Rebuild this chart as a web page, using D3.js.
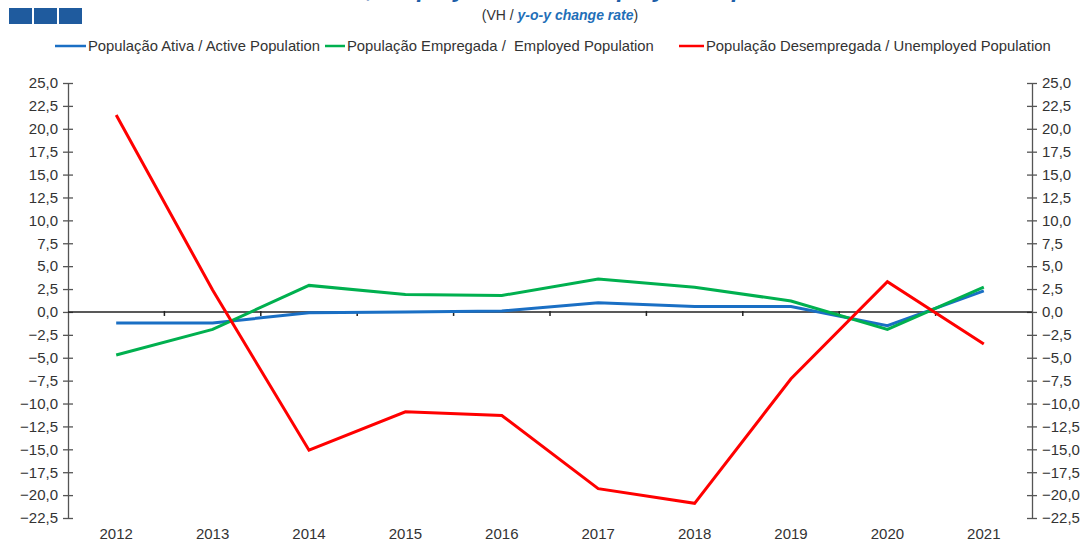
<!DOCTYPE html>
<html><head><meta charset="utf-8">
<script src="https://cdn.jsdelivr.net/npm/d3@7"></script>
<style>body{margin:0;background:#fff}svg{display:block;font-family:"Liberation Sans",Arial,sans-serif}</style>
</head><body><svg id="c" width="1082" height="541"></svg>
<script>
const years = ["2012","2013","2014","2015","2016","2017","2018","2019","2020","2021"];
const active = [-1.2,-1.2,-0.1,0.0,0.1,1.0,0.6,0.6,-1.5,2.3];
const employed = [-4.7,-1.9,2.9,1.9,1.8,3.6,2.7,1.2,-1.9,2.7];
const unemployed = [21.5,2.4,-15.1,-10.9,-11.3,-19.3,-20.9,-7.3,3.3,-3.5];
const yTicks = [25,22.5,20,17.5,15,12.5,10,7.5,5,2.5,0,-2.5,-5,-7.5,-10,-12.5,-15,-17.5,-20,-22.5];
const seriesNames = ["População Ativa / Active Population","População Empregada /  Employed Population","População Desempregada / Unemployed Population"];
const colors = ["#1a6fc4","#00b04f","#ff0000"];

const svg = d3.select("#c");
const L = 68, R = 1032, T = 83, B = 518;
const x = d3.scaleBand().domain(years).range([L,R]);
const y = d3.scaleLinear().domain([-22.5,25]).range([B,T]);
const fmt = v => d3.format(".1f")(v).replace(".",",");

// header squares
[9,34,59].forEach(px=>svg.append("rect").attr("x",px).attr("y",8).attr("width",23).attr("height",16).attr("fill","#1f5b9e"));
// title (cut off at top, as in the reference)
svg.append("text").attr("x",560).attr("y",-3).attr("text-anchor","middle")
  .attr("font-size",24).attr("font-weight","bold").attr("font-style","italic").attr("fill","#1f5fa8")
  .text("Active, Employed and Unemployed Population");
const sub = svg.append("text").attr("x",560).attr("y",20).attr("text-anchor","middle").attr("font-size",14).attr("fill","#333");
sub.append("tspan").text("(VH / ");
sub.append("tspan").attr("fill","#1f6fb8").attr("font-weight","bold").attr("font-style","italic").text("y-o-y change rate");
sub.append("tspan").text(")");

// legend
const leg = [{x1:55,x2:86,tx:88},{x1:325,x2:345,tx:347},{x1:679,x2:704,tx:706}];
leg.forEach((l,i)=>{
  svg.append("line").attr("x1",l.x1).attr("x2",l.x2).attr("y1",46).attr("y2",46).attr("stroke",colors[i]).attr("stroke-width",2.5);
  svg.append("text").attr("x",l.tx).attr("y",51).attr("font-size",14.8).attr("fill","#333")
    .style("white-space","pre").text(seriesNames[i]);
});

// axes
const axisColor = "#555";
const yl = svg.append("g").attr("transform",`translate(${L},0)`)
  .call(d3.axisLeft(y).tickValues(yTicks).tickFormat(fmt).tickSizeInner(5).tickSizeOuter(0).tickPadding(6));
const yr = svg.append("g").attr("transform",`translate(${R},0)`)
  .call(d3.axisRight(y).tickValues(yTicks).tickFormat(fmt).tickSizeInner(5).tickSizeOuter(0).tickPadding(6));
[yl,yr].forEach(g=>{
  g.select(".domain").attr("stroke",axisColor).attr("stroke-width",1.3);
  g.selectAll(".tick line").attr("stroke",axisColor).attr("stroke-width",1.3).attr("x1",-5).attr("x2",5);
  g.selectAll(".tick text").attr("font-size",15).attr("fill","#333").attr("font-family","Liberation Sans, Arial, sans-serif");
});
yl.selectAll(".tick text").attr("x",-10);
yr.selectAll(".tick text").attr("x",10);

// zero line with category boundary ticks
svg.append("line").attr("x1",L).attr("x2",R).attr("y1",y(0)).attr("y2",y(0)).attr("stroke","#222").attr("stroke-width",1.5);
years.slice(1).forEach(yr0=>{
  svg.append("line").attr("x1",x(yr0)).attr("x2",x(yr0)).attr("y1",y(0)-1).attr("y2",y(0)+4).attr("stroke","#222").attr("stroke-width",1.5);
});
// x labels at bottom
const xa = svg.append("g").attr("transform",`translate(0,${B})`)
  .call(d3.axisBottom(x).tickSize(0).tickPadding(10));
xa.select(".domain").remove();
xa.selectAll(".tick text").attr("font-size",15).attr("fill","#333").attr("font-family","Liberation Sans, Arial, sans-serif");

// lines
const line = d3.line().x((d,i)=>x(years[i])+x.bandwidth()/2).y(d=>y(d));
[active,employed,unemployed].forEach((s,i)=>{
  svg.append("path").datum(s).attr("d",line).attr("fill","none").attr("stroke",colors[i]).attr("stroke-width",3);
});
</script></body></html>
